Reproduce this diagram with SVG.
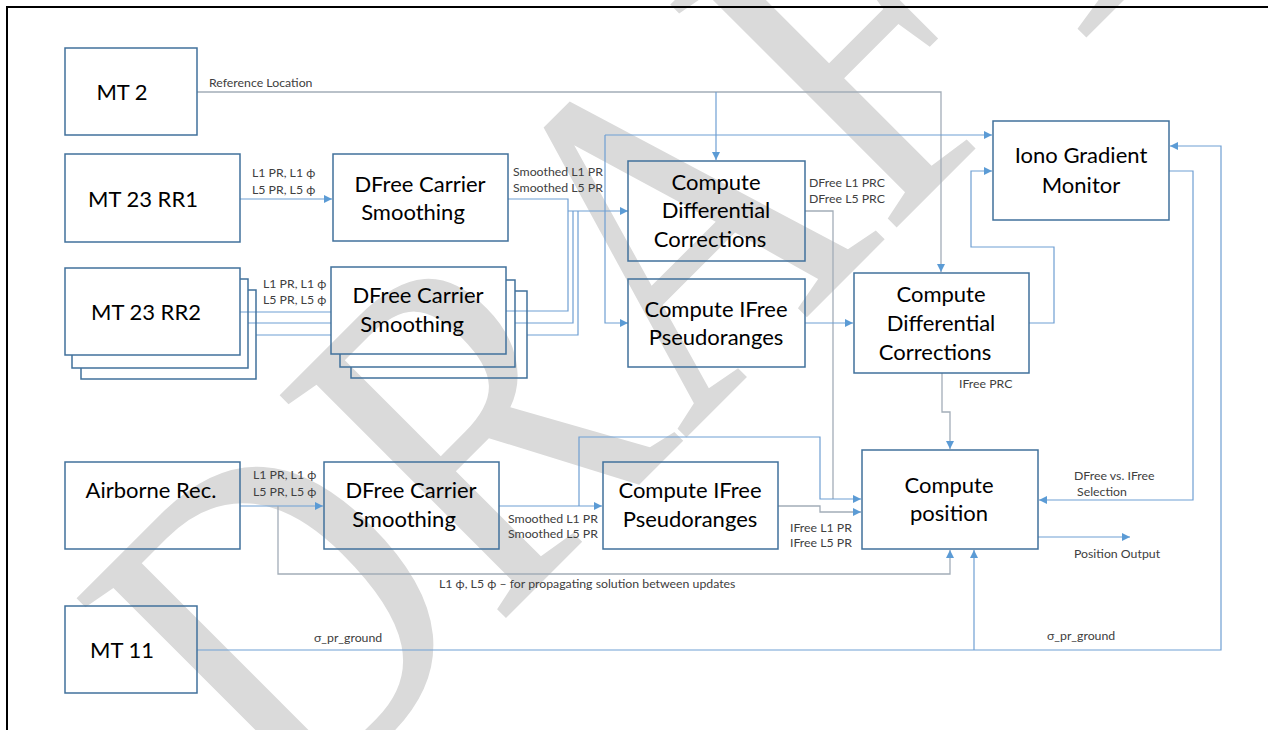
<svg xmlns="http://www.w3.org/2000/svg" width="1268" height="730" viewBox="0 0 1268 730">
<defs>
<style>
.box{fill:none;stroke:#41719c;stroke-width:1.5}
.bt{font-family:Lato,"Liberation Sans",sans-serif;font-size:22px;fill:#000;text-anchor:middle}
.lb{font-family:Lato,"Liberation Sans",sans-serif;font-size:12.3px;fill:#404040}
.c{fill:none;stroke:#6f9fd3;stroke-width:1.2}
.g{fill:none;stroke:#a3adb8;stroke-width:1.3}
.wm{font-family:"Liberation Serif",serif;font-size:485px;fill:#dadada}
</style>
<marker id="ah" viewBox="0 0 10 10" refX="10" refY="5" markerWidth="9" markerHeight="8" markerUnits="userSpaceOnUse" orient="auto">
<path d="M0,0 L10,5 L0,10 z" fill="#5b9bd5"/>
</marker>
</defs>
<rect width="1268" height="730" fill="#fff"/>
<g id="watermark">
<text class="wm" transform="translate(293,831) rotate(-45) scale(0.82,1)">DRAFT</text>
</g>
<path d="M7,730 V7 H1268" fill="none" stroke="#000" stroke-width="2"/>

<g id="connectors">
<path class="g" d="M197,92 H941 V272" marker-end="url(#ah)"/>
<path class="c" d="M716,92 V160" marker-end="url(#ah)"/>
<path class="c" d="M240,199 H332" marker-end="url(#ah)"/>
<path class="c" d="M508,199 H568 V311 H506"/>
<path class="c" d="M568,211 H628" marker-end="url(#ah)"/>
<path class="c" d="M515,323 H573 V211"/>
<path class="c" d="M527,335 H578 V211"/>
<path class="c" d="M605,135 H992" marker-end="url(#ah)"/>
<path class="c" d="M605,135 V323 H628" marker-end="url(#ah)"/>
<path class="c" d="M240,312 H331"/>
<path class="c" d="M248,323 H331"/>
<path class="c" d="M256,335 H331"/>
<path class="g" d="M805,211 H833 V499"/>
<path class="c" d="M805,323 H853" marker-end="url(#ah)"/>
<path class="c" d="M1029,323 H1054 V247 H971 V171 H992" marker-end="url(#ah)"/>
<path class="c" d="M1169,171 H1193 V500 H1039" marker-end="url(#ah)"/>
<path class="g" d="M942,373 V412 H950 V449" marker-end="url(#ah)"/>
<path class="c" d="M240,506 H323" marker-end="url(#ah)"/>
<path class="g" d="M278,506 V574 H950 V550" marker-end="url(#ah)"/>
<path class="c" d="M499,506 H602" marker-end="url(#ah)"/>
<path class="c" d="M579,506 V437 H820 V499 H861" marker-end="url(#ah)"/>
<path class="g" d="M778,506 H820 V512 H861" marker-end="url(#ah)"/>
<path class="c" d="M1038,537 H1130" marker-end="url(#ah)"/>
<path class="c" d="M197,650 H1221 V146 H1170" marker-end="url(#ah)"/>
<path class="c" d="M974,650 V550" marker-end="url(#ah)"/>
</g>

<g id="mt2">
<rect class="box" x="65" y="48" width="132" height="87"/>
<text class="bt" x="122" y="100">MT 2</text>
</g>
<g id="mt23rr1">
<rect class="box" x="65" y="154" width="175" height="88"/>
<text class="bt" x="143" y="207">MT 23 RR1</text>
</g>
<g id="mt23rr2">
<path class="box" d="M248,290 H256 V379 H81 V368"/>
<path class="box" d="M240,279 H248 V368 H72 V355"/>
<rect class="box" x="65" y="268" width="175" height="87"/>
<text class="bt" x="146" y="320">MT 23 RR2</text>
</g>
<g id="airborne">
<rect class="box" x="65" y="462" width="175" height="87"/>
<text class="bt" x="151" y="498">Airborne Rec.</text>
</g>
<g id="mt11">
<rect class="box" x="65" y="606" width="132" height="87"/>
<text class="bt" x="122" y="658">MT 11</text>
</g>
<g id="dfree1">
<rect class="box" x="333" y="154" width="175" height="87"/>
<text class="bt" x="420" y="192">DFree Carrier</text>
<text class="bt" x="413" y="220">Smoothing</text>
</g>
<g id="dfree2">
<path class="box" d="M515,291 H527 V378 H351 V367"/>
<path class="box" d="M506,280 H515 V367 H340 V354"/>
<rect class="box" x="331" y="267" width="175" height="87"/>
<text class="bt" x="418" y="303">DFree Carrier</text>
<text class="bt" x="412" y="332">Smoothing</text>
</g>
<g id="dfree3">
<rect class="box" x="324" y="462" width="175" height="87"/>
<text class="bt" x="411" y="498">DFree Carrier</text>
<text class="bt" x="404" y="527">Smoothing</text>
</g>
<g id="cdc1">
<rect class="box" x="628" y="161" width="177" height="100"/>
<text class="bt" x="716" y="190">Compute</text>
<text class="bt" x="716" y="218">Differential</text>
<text class="bt" x="710" y="247">Corrections</text>
</g>
<g id="ifree1">
<rect class="box" x="628" y="279" width="177" height="88"/>
<text class="bt" x="716" y="317">Compute IFree</text>
<text class="bt" x="716" y="345">Pseudoranges</text>
</g>
<g id="cdc2">
<rect class="box" x="854" y="273" width="175" height="100"/>
<text class="bt" x="941" y="302">Compute</text>
<text class="bt" x="941" y="331">Differential</text>
<text class="bt" x="935" y="360">Corrections</text>
</g>
<g id="iono">
<rect class="box" x="993" y="121" width="176" height="99"/>
<text class="bt" x="1081" y="163">Iono Gradient</text>
<text class="bt" x="1081" y="193">Monitor</text>
</g>
<g id="ifree2">
<rect class="box" x="603" y="462" width="175" height="87"/>
<text class="bt" x="690" y="498">Compute IFree</text>
<text class="bt" x="690" y="527">Pseudoranges</text>
</g>
<g id="position">
<rect class="box" x="862" y="450" width="176" height="99"/>
<text class="bt" x="949" y="493">Compute</text>
<text class="bt" x="949" y="521">position</text>
</g>

<g id="labels">
<text class="lb" x="209" y="87">Reference Location</text>
<text class="lb" x="252" y="177">L1 PR, L1 ϕ</text>
<text class="lb" x="252" y="194">L5 PR, L5 ϕ</text>
<text class="lb" x="513" y="176">Smoothed L1 PR</text>
<text class="lb" x="513" y="192">Smoothed L5 PR</text>
<text class="lb" x="263" y="288">L1 PR, L1 ϕ</text>
<text class="lb" x="263" y="304">L5 PR, L5 ϕ</text>
<text class="lb" x="809" y="187">DFree L1 PRC</text>
<text class="lb" x="809" y="203">DFree L5 PRC</text>
<text class="lb" x="959" y="388">IFree PRC</text>
<text class="lb" x="253" y="479">L1 PR, L1 ϕ</text>
<text class="lb" x="253" y="496">L5 PR, L5 ϕ</text>
<text class="lb" x="508" y="523">Smoothed L1 PR</text>
<text class="lb" x="508" y="538">Smoothed L5 PR</text>
<text class="lb" x="790" y="532">IFree L1 PR</text>
<text class="lb" x="790" y="547">IFree L5 PR</text>
<text class="lb" x="1074" y="480">DFree vs. IFree</text>
<text class="lb" x="1077" y="496">Selection</text>
<text class="lb" x="1074" y="558">Position Output</text>
<text class="lb" x="439" y="588">L1 ϕ, L5 ϕ – for propagating solution between updates</text>
<text class="lb" x="314" y="642">σ_pr_ground</text>
<text class="lb" x="1047" y="640">σ_pr_ground</text>
</g>
</svg>
